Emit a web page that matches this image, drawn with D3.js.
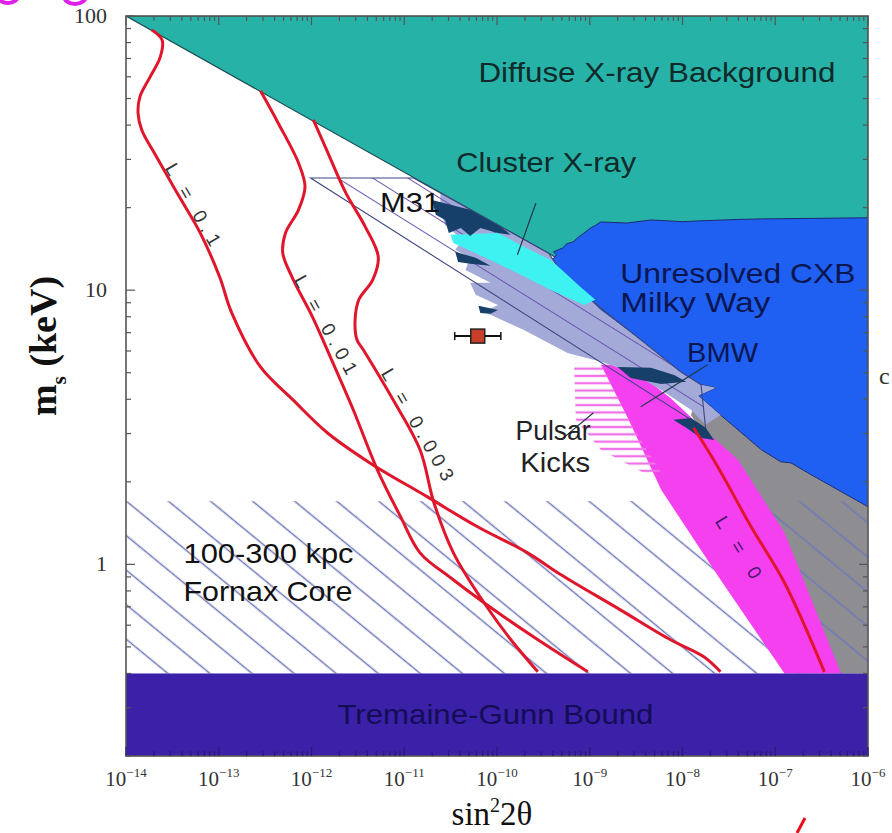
<!DOCTYPE html>
<html><head><meta charset="utf-8">
<script src="https://cdn.jsdelivr.net/npm/d3@7"></script>
<style>body{margin:0;background:#fff;overflow:hidden}</style>
</head><body>
<svg id="c" width="892" height="833"></svg>
<script>
// ---------- DATA (as log10 pairs: [log10 sin^2 2θ, log10 m_s/keV]) ----------
const xTickExps = [-14,-13,-12,-11,-10,-9,-8,-7,-6];
const xTickLabels = ["−14","−13","−12","−11","−10","−9","−8","−7","−6"];
const yTickVals = [1,10,100];
const yTickLabels = ["1","10","100"];

const diffuseXray = [[-14,2],[-6,2],[-6,0.48]];
const unresolvedCXB = [[-9.44,1.095],[-9.36,1.129],[-9.39,1.140],[-9.29,1.154],[-9.25,1.169],[-9.18,1.176],[-9.12,1.194],[-9.06,1.209],[-8.99,1.227],[-8.95,1.234],[-8.88,1.249],[-8.6,1.245],[-8.34,1.256],[-8.0,1.250],[-7.80,1.253],[-7.4,1.258],[-7.15,1.260],[-6.6,1.262],[-6.0,1.264],
  [-6.0,0.210],[-6.65,0.334],[-6.83,0.370],[-6.94,0.374],[-7.15,0.418],[-7.59,0.545],[-7.83,0.615],[-7.64,0.644],[-7.80,0.655],[-8.02,0.702],[-8.45,0.819],[-8.88,0.928],[-8.99,0.965],[-9.15,1.019],[-9.31,1.067]];
const grayRegion = [[-7.83,0.615],[-7.59,0.545],[-7.15,0.418],[-6.94,0.374],[-6.83,0.370],[-6.65,0.334],[-6,0.21],[-6,-0.398],[-6.29,-0.398],[-7.80,0.491],[-7.91,0.545]];
const pulsarBand = [[-8.88,0.728],[-8.58,0.527],[-8.23,0.272],[-7.59,-0.056],[-6.90,-0.398],[-6.29,-0.398],[-6.90,0.115],[-7.40,0.381],[-7.88,0.527],[-8.13,0.607],[-8.45,0.691],[-8.77,0.728]];
const pulsarKicks = [[-9.17,0.735],[-8.88,0.735],[-8.58,0.527],[-8.23,0.334],[-8.42,0.334],[-8.88,0.418],[-9.15,0.527]];
const bmwRegion = [[-10.61,1.355],[-9.44,1.134],[-9.31,1.067],[-9.15,1.019],[-8.99,0.965],[-8.88,0.928],[-8.45,0.819],[-8.02,0.702],[-7.80,0.655],[-7.64,0.644],[-7.83,0.615],[-7.59,0.545],[-7.75,0.509],[-7.91,0.564],[-8.23,0.636],[-8.56,0.702],[-8.88,0.739],[-9.24,0.771],[-9.71,0.855],[-10.14,0.921],[-9.99,0.946],[-10.23,0.983],[-10.29,1.027],[-10.07,1.027],[-10.34,1.074],[-10.29,1.118],[-10.45,1.147],[-10.37,1.183],[-10.56,1.238],[-10.61,1.293]];
const m31Region = [[-12.01,1.409],[-10.90,1.409],[-9.44,1.134],[-9.31,1.067],[-8.99,0.965],[-8.45,0.819],[-8.02,0.702],[-7.80,0.655],[-7.75,0.494]];
const clusterXray = [[-10.50,1.202],[-9.99,1.209],[-9.71,1.158],[-9.42,1.110],[-9.35,1.089],[-9.10,1.012],[-8.94,0.965],[-9.06,0.946],[-9.42,1.001],[-9.78,1.063],[-10.14,1.121],[-10.47,1.172]];
const darkPatches = [
  [[-10.70,1.329],[-10.29,1.293],[-9.96,1.231],[-9.85,1.202],[-9.99,1.209],[-10.18,1.227],[-10.29,1.198],[-10.39,1.227],[-10.52,1.209],[-10.56,1.256],[-10.66,1.275]],
  [[-10.45,1.140],[-10.23,1.118],[-10.07,1.089],[-10.29,1.096],[-10.42,1.103]],
  [[-10.20,0.943],[-9.99,0.928],[-10.07,0.914],[-10.18,0.917]],
  [[-8.70,0.720],[-8.34,0.717],[-8.09,0.691],[-7.96,0.666],[-8.23,0.658],[-8.56,0.680]],
  [[-8.10,0.527],[-7.91,0.534],[-7.75,0.498],[-7.66,0.454],[-7.80,0.461],[-7.96,0.498]]
];
const fornaxRange = {x:[1e-14,1e-6], m:[0.4,1.7]};
const tremaineGunn = {x:[1e-14,1e-6], m:[0.2,0.4]};

const curveL01 = [[-13.72,1.949],[-13.61,1.912],[-13.63,1.851],[-13.74,1.778],[-13.85,1.705],[-13.87,1.646],[-13.83,1.584],[-13.67,1.486],[-13.45,1.355],[-13.20,1.209],[-12.99,1.048],[-12.86,0.917],[-12.55,0.720],[-12.20,0.600],[-11.83,0.480],[-11.37,0.370],[-10.75,0.246],[-10.21,0.137],[-9.67,0.042],[-9.31,-0.038],[-8.67,-0.166],[-8.13,-0.275],[-7.77,-0.337],[-7.59,-0.392]];
const curveL001 = [[-12.55,1.727],[-12.36,1.610],[-12.14,1.464],[-12.07,1.377],[-12.14,1.293],[-12.28,1.209],[-12.31,1.136],[-12.21,1.048],[-11.99,0.903],[-11.83,0.782],[-11.55,0.564],[-11.29,0.345],[-11.04,0.174],[-10.83,0.042],[-10.50,-0.049],[-10.14,-0.140],[-9.64,-0.257],[-9.31,-0.330],[-9.02,-0.392]];
const curveL0003 = [[-11.98,1.621],[-11.85,1.522],[-11.63,1.355],[-11.42,1.231],[-11.28,1.121],[-11.34,1.038],[-11.49,0.965],[-11.53,0.892],[-11.51,0.819],[-11.44,0.782],[-11.12,0.600],[-10.83,0.418],[-10.68,0.225],[-10.47,0.042],[-10.14,-0.140],[-9.85,-0.275],[-9.56,-0.392]];
const curveL0 = [[-7.88,0.498],[-7.62,0.356],[-7.26,0.137],[-6.90,-0.067],[-6.47,-0.392]];

const pointers = [ [[-9.58,1.318],[-9.78,1.129]], [[-8.45,0.575],[-7.73,0.728]], [[-9.31,0.454],[-8.96,0.553]] ];
const lineSignal = {x:6.2e-11, xlo:3.5e-11, xhi:1.1e-10, m:6.8};

const regionLabels = [
  {t:"Diffuse X-ray Background", p:[-10.20,1.759], w:357, c:"#0f2a2a"},
  {t:"Cluster X-ray", p:[-10.44,1.431], w:180, c:"#0f2a2a"},
  {t:"M31", p:[-11.26,1.285], w:60, c:"#111"},
  {t:"Unresolved CXB", p:[-8.67,1.027], w:235, c:"#0a1650"},
  {t:"Milky Way", p:[-8.67,0.921], w:150, c:"#0a1650"},
  {t:"BMW", p:[-7.95,0.739], w:71, c:"#0a1650"},
  {t:"Pulsar", p:[-9.80,0.454], w:75, c:"#222"},
  {t:"Kicks", p:[-9.75,0.338], w:70, c:"#222"},
  {t:"100-300 kpc", p:[-13.38,0.006], w:170, c:"#111"},
  {t:"Fornax Core", p:[-13.38,-0.133], w:169, c:"#111"},
  {t:"Tremaine-Gunn Bound", p:[-11.72,-0.581], w:316, c:"#140d55"}
];
const curveLabels = [
  {t:"L = 0.1", p:[-13.28,1.311], a:60, w:92, c:"#333"},
  {t:"L = 0.01", p:[-11.85,0.873], a:61, w:110, c:"#333"},
  {t:"L = 0.003", p:[-10.86,0.509], a:60, w:126, c:"#333"},
  {t:"L = 0", p:[-7.40,0.061], a:58, w:70, c:"#4a1470"}
];

// ---------- DRAW ----------
const svg = d3.select("#c");
const x = d3.scaleLog().domain([1e-14,1e-6]).range([126,868]);
const y = d3.scaleLog().domain([0.2,100]).range([756,16]);
const V = pts => pts.map(([a,b]) => [Math.pow(10,a), Math.pow(10,b)]);
const lin = d3.line().x(d=>x(d[0])).y(d=>y(d[1]));
const poly = pts => lin(V(pts)) + "Z";
const smooth = d3.line().x(d=>x(d[0])).y(d=>y(d[1])).curve(d3.curveCatmullRom.alpha(0.5));

svg.append("rect").attr("width",892).attr("height",833).attr("fill","#fff");
const defs = svg.append("defs");
defs.append("clipPath").attr("id","plot").append("rect")
  .attr("x",x(1e-14)).attr("y",y(100)).attr("width",x(1e-6)-x(1e-14)).attr("height",y(0.2)-y(100));
function hatch(id, angle, sp, color, w){
  const p = defs.append("pattern").attr("id",id).attr("patternUnits","userSpaceOnUse")
    .attr("width",sp*6).attr("height",sp).attr("patternTransform",`rotate(${angle})`);
  p.append("line").attr("x1",0).attr("x2",sp*6).attr("y1",sp/2).attr("y2",sp/2)
    .attr("stroke",color).attr("stroke-width",w);
}
hatch("fornax",39.4,26.7,"#6f78b8",1.4);
hatch("m31",32,18.6,"#6a55b0",1.2);
hatch("pulsar",0,7.3,"#f070e8",2.2);

const g = svg.append("g").attr("clip-path","url(#plot)");
g.append("path").attr("d",poly(diffuseXray)).attr("fill","#27b2a8").attr("stroke","#1c4f55").attr("stroke-width",1.2);
g.append("path").attr("d",poly(grayRegion)).attr("fill","#8e8e92");
g.append("rect").attr("x",x(fornaxRange.x[0])).attr("y",y(fornaxRange.m[1]))
  .attr("width",x(fornaxRange.x[1])-x(fornaxRange.x[0])).attr("height",y(fornaxRange.m[0])-y(fornaxRange.m[1]))
  .attr("fill","url(#fornax)");
g.append("path").attr("d",poly(pulsarBand)).attr("fill","#f540ef");
g.append("path").attr("d",poly(pulsarKicks)).attr("fill","url(#pulsar)");
g.append("path").attr("d",poly(unresolvedCXB)).attr("fill","#1f5ff2").attr("stroke","#1a2a70").attr("stroke-width",1);
g.append("path").attr("d",poly(bmwRegion)).attr("fill","#a4aad8");
g.append("path").attr("d",poly(m31Region)).attr("fill","url(#m31)").attr("stroke","#3d4680").attr("stroke-width",1.1);
g.append("path").attr("d",poly(clusterXray)).attr("fill","#3ff2f2");
darkPatches.forEach(p => g.append("path").attr("d",poly(p)).attr("fill","#16406a"));

[curveL01, curveL001, curveL0003, curveL0].forEach(c =>
  g.append("path").attr("d",smooth(V(c))).attr("fill","none").attr("stroke","#e0162c").attr("stroke-width",3).attr("stroke-linejoin","round"));

g.append("rect").attr("x",x(tremaineGunn.x[0])).attr("y",y(tremaineGunn.m[1]))
  .attr("width",x(tremaineGunn.x[1])-x(tremaineGunn.x[0])).attr("height",y(tremaineGunn.m[0])-y(tremaineGunn.m[1]))
  .attr("fill","#3a21a8");

// pointer lines
pointers.forEach(p => svg.append("path").attr("d",lin(V(p))).attr("stroke","#1e3a4a").attr("stroke-width",1.2).attr("fill","none"));

// frame & ticks
const x0=x(1e-14), x1=x(1e-6), y0=y(0.2), y1=y(100);
svg.append("rect").attr("x",x0).attr("y",y1).attr("width",x1-x0).attr("height",y0-y1)
  .attr("fill","none").attr("stroke","#555").attr("stroke-width",1.6);
const tk = svg.append("g").attr("stroke","#555").attr("stroke-width",1.2);
for (let e=-14; e<=-6; e++) {
  for (let k=1; k<=9; k++) {
    const v = k*Math.pow(10,e); if (v>1e-6*1.0001) break;
    const L = k===1?9:5, px = x(v);
    tk.append("line").attr("x1",px).attr("x2",px).attr("y1",y1).attr("y2",y1+L);
    tk.append("line").attr("x1",px).attr("x2",px).attr("y1",y0).attr("y2",y0-L).attr("stroke","#2a1a70");
  }
}
[0.1,1,10].forEach(d => {
  for (let k=1; k<=9; k++) {
    const v = k*d; if (v<0.2-1e-9 || v>100.0001) continue;
    const L = k===1?9:5, py = y(v);
    tk.append("line").attr("x1",x0).attr("x2",x0+L).attr("y1",py).attr("y2",py);
    tk.append("line").attr("x1",x1).attr("x2",x1-L).attr("y1",py).attr("y2",py);
  }
});
tk.append("line").attr("x1",x0).attr("x2",x0+9).attr("y1",y(100)).attr("y2",y(100));

// tick labels
const serif = "'Liberation Serif','DejaVu Serif',serif";
xTickExps.forEach((e,i) => {
  const t = svg.append("text").attr("x",x(Math.pow(10,e))).attr("y",786).attr("text-anchor","middle")
    .attr("font-family",serif).attr("font-size",21).attr("fill","#333");
  t.append("tspan").text("10");
  t.append("tspan").attr("dy",-9).attr("font-size",13).text(xTickLabels[i]);
});
yTickVals.forEach((v,i) => {
  svg.append("text").attr("x",107).attr("y",y(v)+7).attr("text-anchor","end")
    .attr("font-family",serif).attr("font-size",22).attr("fill","#333").text(yTickLabels[i]);
});

// axis titles
const xt = svg.append("text").attr("x",492).attr("y",825).attr("text-anchor","middle")
  .attr("font-family",serif).attr("font-size",33).attr("fill","#111");
xt.append("tspan").text("sin");
xt.append("tspan").attr("dy",-13).attr("font-size",20).text("2");
xt.append("tspan").attr("dy",13).text("2θ");
const yt = svg.append("text").attr("transform","translate(56,346) rotate(-90)").attr("text-anchor","middle")
  .attr("font-family",serif).attr("font-size",38).attr("font-weight","bold").attr("fill","#111");
yt.append("tspan").text("m");
yt.append("tspan").attr("dy",10).attr("font-size",21).text("s");
yt.append("tspan").attr("dy",-10).text(" (keV)");

// region labels
const sans = "'Liberation Sans',Arial,Helvetica,sans-serif";
regionLabels.forEach(l => {
  svg.append("text").attr("x",x(Math.pow(10,l.p[0]))).attr("y",y(Math.pow(10,l.p[1])))
    .attr("font-family",sans).attr("font-size",28).attr("fill",l.c)
    .attr("textLength",l.w).attr("lengthAdjust","spacingAndGlyphs").text(l.t);
});
curveLabels.forEach(l => {
  const px = x(Math.pow(10,l.p[0])), py = y(Math.pow(10,l.p[1]));
  svg.append("text").attr("transform",`translate(${px},${py}) rotate(${l.a})`).attr("text-anchor","middle")
    .attr("dy",6).attr("font-family",sans).attr("font-size",19).attr("fill",l.c)
    .attr("textLength",l.w).attr("lengthAdjust","spacing").text(l.t);
});

// 3.5 keV line signal point
const my = y(lineSignal.m);
svg.append("line").attr("x1",x(lineSignal.xlo)).attr("x2",x(lineSignal.xhi)).attr("y1",my).attr("y2",my)
  .attr("stroke","#111").attr("stroke-width",2);
[lineSignal.xlo, lineSignal.xhi].forEach(v => svg.append("line").attr("x1",x(v)).attr("x2",x(v)).attr("y1",my-4).attr("y2",my+4).attr("stroke","#111").attr("stroke-width",1.5));
svg.append("rect").attr("x",x(lineSignal.x)-7).attr("y",my-7).attr("width",14).attr("height",14)
  .attr("fill","#c8402a").attr("stroke","#222").attr("stroke-width",1.5);

// cropped fragments at the picture edges
svg.append("ellipse").attr("cx",8).attr("cy",-4).attr("rx",10).attr("ry",7).attr("fill","none").attr("stroke","#e020e8").attr("stroke-width",4);
svg.append("ellipse").attr("cx",75).attr("cy",-4).attr("rx",11).attr("ry",8).attr("fill","none").attr("stroke","#e020e8").attr("stroke-width",4);
svg.append("text").attr("x",879).attr("y",384).attr("font-family",serif).attr("font-size",24).attr("fill","#333").text("c");
svg.append("path").attr("d","M805,818 L797,833").attr("stroke","#e8101c").attr("stroke-width",3);
</script>
</body></html>
